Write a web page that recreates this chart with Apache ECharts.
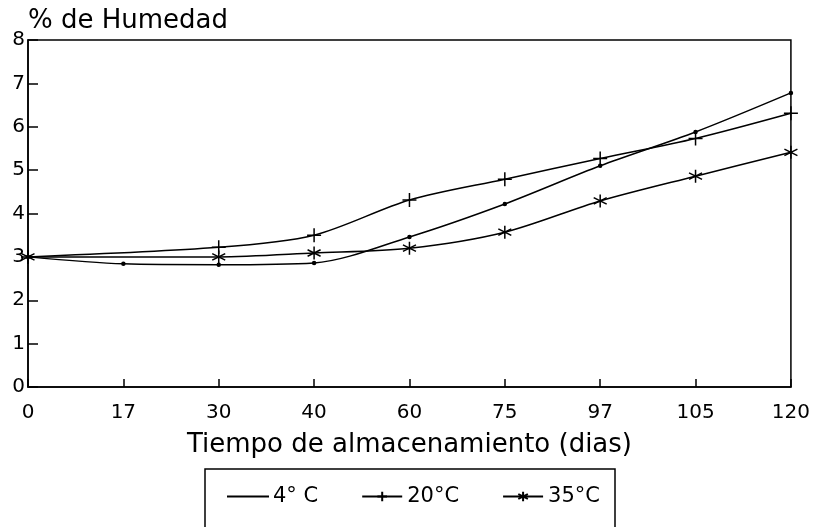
<!DOCTYPE html>
<html>
<head>
<meta charset="utf-8">
<script src="https://cdn.jsdelivr.net/npm/echarts@6/dist/echarts.min.js"></script>
<style>
  html, body { margin: 0; padding: 0; background: #fff; }
  #main { width: 813px; height: 527px; }
</style>
</head>
<body>
<div id="main"></div>
<script>
// storage days (evenly spaced categories)
const dias = ["0", "17", "30", "40", "60", "75", "97", "105", "120"]
const hum4 = [3.0, 2.84, 2.82, 2.86, 3.46, 4.22, 5.1, 5.88, 6.78]
const hum20 = [3.0, null, 3.22, 3.5, 4.31, 4.79, 5.27, 5.73, 6.31]
const hum35 = [3.0, null, 3.0, 3.09, 3.2, 3.57, 4.29, 4.86, 5.41]

const font = "DejaVu Sans"
const plusPath = "path://M0,5L10,5M5,0L5,10"
const starPath = "path://M5,0L5,10M0.7,2.5L9.3,7.5M0.7,7.5L9.3,2.5"
const linePath = "path://M0,0L40,0L40,0.1L0,0.1Z"

let chart = echarts.init(document.getElementById("main"))

function serie (name, data, symbol, size) {
  return {
    name: name,
    type: "line",
    data: data,
    smooth: 0.3,
    connectNulls: true,
    symbol: symbol,
    symbolSize: size,
    showAllSymbol: true,
    lineStyle: { color: "#000", width: 1.5 },
    itemStyle: { color: "#000", borderColor: "#000", borderWidth: 1.5 }
  }
}

let option = {
  animation: false,
  backgroundColor: "#fff",
  textStyle: { fontFamily: font, color: "#000" },
  title: {
    text: "% de Humedad",
    left: 23,
    top: 3,
    textStyle: { fontFamily: font, fontSize: 26, fontWeight: "normal", color: "#000" }
  },
  grid: {
    left: 28,
    right: 20,
    top: 40,
    bottom: 140,
    show: true,
    borderColor: "#000",
    borderWidth: 1.5
  },
  xAxis: {
    type: "category",
    data: dias,
    boundaryGap: false,
    name: "Tiempo de almacenamiento (dias)",
    nameLocation: "middle",
    nameGap: 45,
    nameTextStyle: { fontFamily: font, fontSize: 26, color: "#000" },
    axisLine: { lineStyle: { color: "#000", width: 1.5 } },
    axisTick: { inside: true, length: 8, lineStyle: { color: "#000", width: 1.5 } },
    axisLabel: { fontFamily: font, fontSize: 20, color: "#000", margin: 16 },
    splitLine: { show: false }
  },
  yAxis: {
    type: "value",
    min: 0,
    max: 8,
    interval: 1,
    axisLine: { show: true, lineStyle: { color: "#000", width: 1.5 } },
    axisTick: { show: true, inside: true, length: 10, lineStyle: { color: "#000", width: 1.5 } },
    axisLabel: { fontFamily: font, fontSize: 20, color: "#000", margin: 3 },
    splitLine: { show: false }
  },
  legend: {
    left: 222,
    top: 481,
    itemWidth: 40,
    itemHeight: 12,
    itemGap: 43,
    textStyle: { fontFamily: font, fontSize: 21, color: "#000" },
    data: [{ name: "4° C", icon: linePath }, "20°C", "35°C"]
  },
  graphic: [
    {
      type: "rect",
      shape: { x: 205, y: 469, width: 410, height: 80 },
      style: { fill: "none", stroke: "#000", lineWidth: 1.5 }
    }
  ],
  series: [
    serie("4° C", hum4, "circle", 3),
    serie("20°C", hum20, plusPath, 14),
    serie("35°C", hum35, starPath, 13)
  ]
}

option && chart.setOption(option)
</script>
</body>
</html>
